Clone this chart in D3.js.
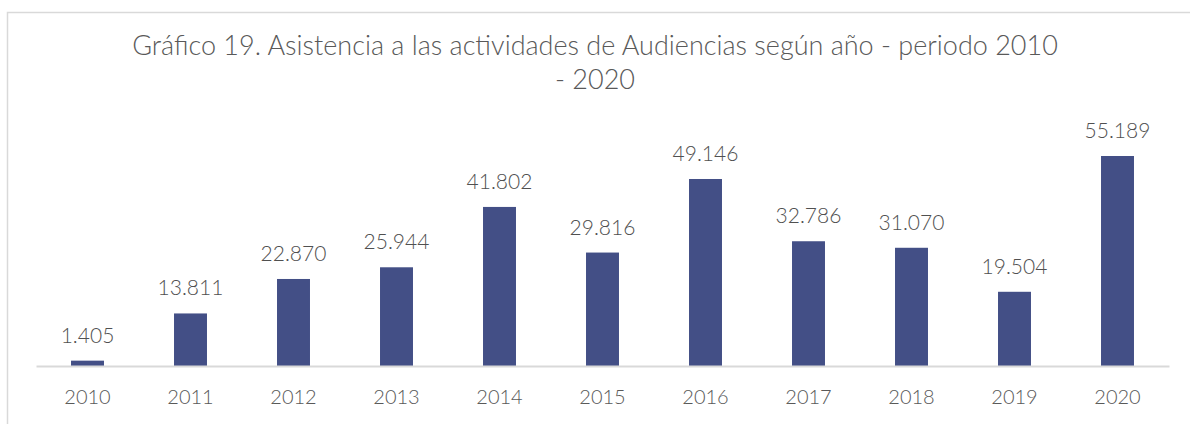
<!DOCTYPE html>
<html>
<head>
<meta charset="utf-8">
<script src="https://cdn.jsdelivr.net/npm/d3@7"></script>
<style>
	body { margin: 0; background: #ffffff; }
	svg { display: block; }
</style>
</head>
<body>
<div id="chart"></div>
<script>

// chart data
var years = ["2010", "2011", "2012", "2013", "2014", "2015", "2016", "2017", "2018", "2019", "2020"];
var attendance = [1405, 13811, 22870, 25944, 41802, 29816, 49146, 32786, 31070, 19504, 55189];
var titleLines = ["Gráfico 19. Asistencia a las actividades de Audiencias según año - periodo 2010", "- 2020"];

// size and margins
var width = 1190,
	height = 424,
	margin = {top: 156, bottom: 58, left: 36, right: 21};

var svg = d3.select("#chart")
	.append("svg")
	.attr("width", width)
	.attr("height", height)
	.style("font-family", "Lato, 'Open Sans', sans-serif");

// chart area border (only left and top visible)
svg.append("rect")
	.attr("x", 7.5)
	.attr("y", 12.5)
	.attr("width", width)
	.attr("height", height)
	.attr("fill", "none")
	.attr("stroke", "#d9d9d9")
	.attr("stroke-width", 1.5);

// scales
var x = d3.scaleBand()
	.domain(years)
	.range([margin.left, width - margin.right])
	.paddingInner(0.68)
	.paddingOuter(0.34);

var y = d3.scaleLinear()
	.domain([0, d3.max(attendance)])
	.range([height - margin.bottom, margin.top]);

// title
svg.append("text")
	.attr("x", 595)
	.attr("y", 55)
	.attr("text-anchor", "middle")
	.attr("fill", "#595959")
	.style("font-size", "27px")
	.style("font-weight", 300)
	.selectAll("tspan")
	.data(titleLines)
	.enter()
	.append("tspan")
	.attr("x", 595)
	.attr("dy", function(d, i){

		return i === 0 ? 0 : 34;
	})
	.text(function(d){

		return d;
	});

// bars
svg.append("g")
	.selectAll("rect")
	.data(attendance)
	.enter()
	.append("rect")
	.attr("x", function(d, i){

		return x(years[i]);
	})
	.attr("y", function(d){

		return y(d);
	})
	.attr("width", x.bandwidth())
	.attr("height", function(d){

		return y(0) - y(d);
	})
	.attr("fill", "#434f86");

// value labels
svg.append("g")
	.selectAll("text")
	.data(attendance)
	.enter()
	.append("text")
	.attr("x", function(d, i){

		return x(years[i]) + x.bandwidth() / 2;
	})
	.attr("y", function(d){

		return y(d) - 18;
	})
	.attr("text-anchor", "middle")
	.attr("fill", "#505050")
	.style("font-size", "21px")
	.style("font-weight", 300)
	.text(function(d){

		return d3.format(",")(d).replace(/,/g, ".");
	});

// x axis
var xAxis = svg.append("g")
	.attr("transform", "translate(0," + y(0) + ")")
	.call(d3.axisBottom(x).tickSize(0).tickPadding(24));

xAxis.select(".domain")
	.attr("stroke", "#d9d9d9")
	.attr("stroke-width", 2);

xAxis.selectAll("text")
	.attr("fill", "#595959")
	.style("font-size", "20px")
	.style("font-weight", 300)
	.style("font-family", "Lato, 'Open Sans', sans-serif");

</script>
</body>
</html>
